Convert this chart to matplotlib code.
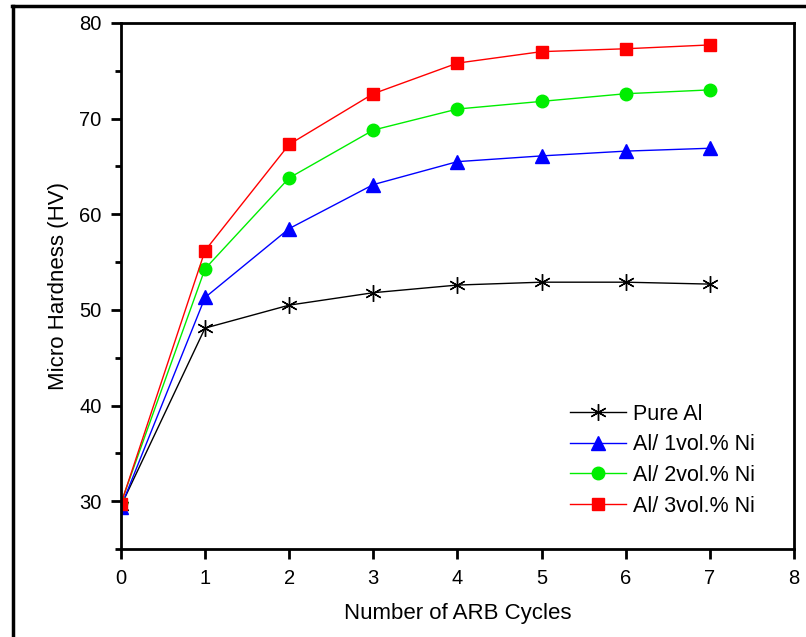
import matplotlib
matplotlib.use("Agg")
import matplotlib.pyplot as plt
from matplotlib.lines import Line2D

plt.rcParams['font.family'] = ['Liberation Sans', 'DejaVu Sans']

cycles = [0, 1, 2, 3, 4, 5, 6, 7]
pure_al = [29.5, 48.1, 50.5, 51.8, 52.6, 52.9, 52.9, 52.7]
al_1ni = [29.4, 51.3, 58.5, 63.1, 65.5, 66.1, 66.6, 66.9]
al_2ni = [29.8, 54.3, 63.8, 68.8, 71.0, 71.8, 72.6, 73.0]
al_3ni = [29.7, 56.2, 67.3, 72.6, 75.8, 77.0, 77.3, 77.7]

fig = plt.figure(figsize=(8.06, 6.37), dpi=100)
ax = fig.add_axes([0.150, 0.138, 0.835, 0.826])

ax.plot(cycles, pure_al, color='black', lw=1, marker=(6, 2, 0), ms=12, mew=1, label='Pure Al')
ax.plot(cycles, al_1ni, color='blue', lw=1, marker='^', ms=10, label='Al/ 1vol.% Ni')
ax.plot(cycles, al_2ni, color='#00ee00', lw=1, marker='o', ms=9, label='Al/ 2vol.% Ni')
ax.plot(cycles, al_3ni, color='red', lw=1, marker='s', ms=9, label='Al/ 3vol.% Ni')

ax.set_xlim(0, 8)
ax.set_ylim(25, 80)
ax.set_xticks(range(0, 9))
ax.set_yticks([30, 40, 50, 60, 70, 80])
ax.set_yticks([25, 35, 45, 55, 65, 75], minor=True)
ax.tick_params(axis='both', which='major', direction='out', length=7, width=2, labelsize=14.5, pad=7)
ax.tick_params(axis='y', which='minor', direction='out', length=4, width=2)
ax.tick_params(top=False, right=False)
for s in ax.spines.values():
    s.set_linewidth(2)

ax.set_xlabel('Number of ARB Cycles', fontsize=16, labelpad=11)
ax.set_ylabel('Micro Hardness (HV)', fontsize=16, labelpad=7)

ax.legend(loc='upper left', bbox_to_anchor=(0.655, 0.293), frameon=False,
          fontsize=15.5, handlelength=2.6, handletextpad=0.3, labelspacing=0.45, borderaxespad=0)

# outer frame (top and left)
fig.add_artist(Line2D([12 / 806, 1], [1 - 5.5 / 637] * 2, color='black', lw=2.5))
fig.add_artist(Line2D([12.5 / 806] * 2, [0, 1 - 5.5 / 637], color='black', lw=2.5))

fig.savefig('out.png', dpi=100)
